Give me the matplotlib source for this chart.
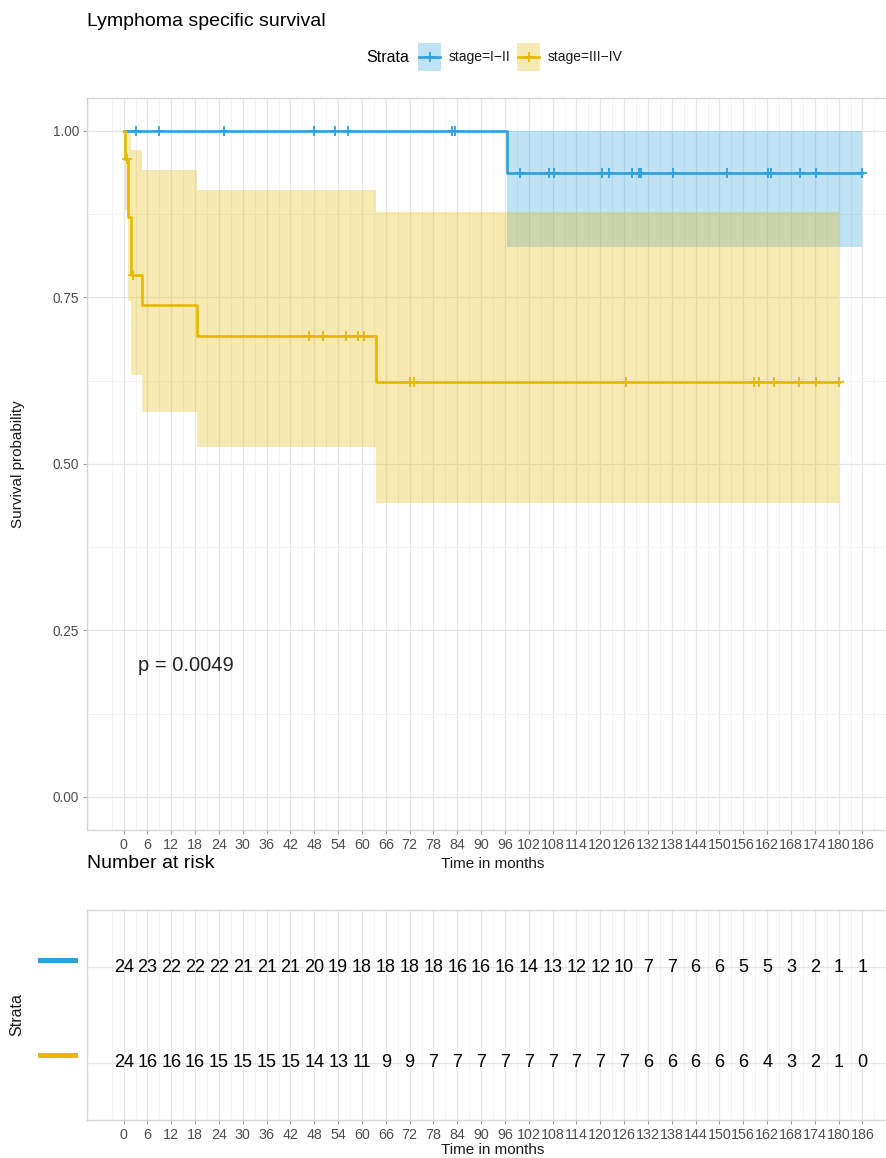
import numpy as np
import matplotlib.pyplot as plt
from matplotlib.lines import Line2D
from matplotlib.patches import Rectangle

plt.rcParams['font.family'] = ['Liberation Sans', 'DejaVu Sans']

# curve steps (months, survival, 95% CI)
blue_time = [0, 96.5, 186.0]
blue_surv = [1.0, 0.9375, 0.9375]
blue_lower = [1.0, 0.826, 0.826]
blue_upper = [1.0, 1.0, 1.0]
blue_cens = [3.0, 8.8, 25.3, 47.8, 53.3, 56.5, 82.6, 83.4, 99.7, 107.0, 108.4,
             120.5, 122.2, 127.9, 129.8, 130.3, 138.3, 152.0, 162.3, 163.0,
             170.3, 174.2, 186.0]

yel_time = [0, 0.3, 1.2, 1.8, 4.7, 18.4, 63.5, 180.0]
yel_surv = [1.0, 0.958, 0.871, 0.784, 0.738, 0.692, 0.623, 0.623]
yel_lower = [1.0, 0.881, 0.745, 0.633, 0.578, 0.525, 0.442, 0.442]
yel_upper = [1.0, 1.0, 1.0, 0.971, 0.942, 0.911, 0.878, 0.878]
yel_cens = [0.9, 2.3, 46.7, 50.1, 56.1, 58.9, 60.4, 72.2, 73.2, 126.5,
            158.7, 160.0, 163.8, 170.1, 174.3, 180.0]

risk_times = list(range(0, 187, 6))
risk_blue = [24, 23, 22, 22, 22, 21, 21, 21, 20, 19, 18, 18, 18, 18, 16, 16,
             16, 14, 13, 12, 12, 10, 7, 7, 6, 6, 5, 5, 3, 2, 1, 1]
risk_yel = [24, 16, 16, 16, 15, 15, 15, 15, 14, 13, 11, 9, 9, 7, 7, 7,
            7, 7, 7, 7, 7, 7, 6, 6, 6, 6, 6, 4, 3, 2, 1, 0]

labels = ['stage=I\u2212II', 'stage=III\u2212IV']
blue = '#2E9FDF'
yellow = '#E7B800'

W, H = 886, 1158


def fx(x):
    return x / W


def fy(y):
    return 1 - y / H


def style_axes(ax):
    ax.set_facecolor('white')
    for s in ax.spines.values():
        s.set_color('#D6D6D6')
        s.set_linewidth(1.0)
    ax.set_xlim(-9.3, 195.3)
    ax.set_xticks(risk_times)
    ax.set_xticks(np.arange(-3, 195, 6), minor=True)
    ax.set_xticklabels([str(t) for t in risk_times], fontsize=10.3, color='#4D4D4D')
    ax.grid(which='major', color='#E6E6E6', linewidth=0.9)
    ax.grid(which='minor', color='#F2F2F2', linewidth=0.7)
    ax.set_axisbelow(True)
    ax.tick_params(which='major', length=3, color='#A0A0A0', pad=2.5)
    ax.tick_params(which='minor', length=0)


fig = plt.figure(figsize=(8.86, 11.58), dpi=100)

# survival panel
ax = fig.add_axes([fx(86.7), fy(830.3), 812.7 / W, 732.6 / H])
style_axes(ax)
ax.set_ylim(-0.05, 1.05)
ax.set_yticks([0, 0.25, 0.5, 0.75, 1.0])
ax.set_yticks([0.125, 0.375, 0.625, 0.875], minor=True)
ax.set_yticklabels(['0.00', '0.25', '0.50', '0.75', '1.00'], fontsize=9.8, color='#4D4D4D')

ax.fill_between(blue_time, blue_lower, blue_upper, step='post', color=blue, alpha=0.3, lw=0)
ax.fill_between(yel_time, yel_lower, yel_upper, step='post', color=yellow, alpha=0.3, lw=0)
ax.step(blue_time, blue_surv, where='post', color=blue, lw=1.9)
ax.step(yel_time, yel_surv, where='post', color=yellow, lw=1.9)

for tms, sv, cens, col in [(blue_time, blue_surv, blue_cens, blue),
                           (yel_time, yel_surv, yel_cens, yellow)]:
    idx = np.searchsorted(tms, cens, side='right') - 1
    ax.plot(cens, np.array(sv)[idx], ls='none', marker='+', ms=7, mew=1.3, color=col)

ax.text(3.7, 0.198, 'p = 0.0049', fontsize=14.5, color='#222222', ha='left', va='center')

ax.set_xlabel('Time in months', fontsize=11, color='#1A1A1A')
ax.xaxis.set_label_coords(0.5, (830.3 - 857) / 732.6)
ax.set_ylabel('Survival probability', fontsize=11, color='#1A1A1A')
ax.yaxis.set_label_coords((25 - 86.7) / 812.7, 0.5)

fig.text(fx(86.7), fy(22), 'Lymphoma specific survival', fontsize=14, va='center', ha='left')

# legend
fig.text(fx(366), fy(57), 'Strata', fontsize=11.5, va='center', ha='left')
for x0, col, lab in [(418, blue, labels[0]), (517, yellow, labels[1])]:
    fig.add_artist(Rectangle((fx(x0), fy(71)), 23 / W, 28 / H, transform=fig.transFigure,
                             facecolor=col, alpha=0.3, edgecolor='none'))
    fig.add_artist(Line2D([fx(x0 + 1), fx(x0 + 22)], [fy(57), fy(57)], transform=fig.transFigure,
                          color=col, lw=1.9))
    fig.add_artist(Line2D([fx(x0 + 11.5)], [fy(57)], transform=fig.transFigure,
                          color=col, marker='+', ms=7, mew=1.3, ls='none'))
    fig.text(fx(x0 + 31), fy(57), lab, fontsize=10, va='center', ha='left', color='#1A1A1A')

# number at risk table
fig.text(fx(86.7), fy(863), 'Number at risk', fontsize=14, va='center', ha='left')
tx = fig.add_axes([fx(86.7), fy(1120), 812.7 / W, 210 / H])
style_axes(tx)
tx.set_ylim(0.4, 2.6)
tx.set_yticks([1, 2])
tx.set_yticklabels(['', ''])
tx.tick_params(axis='y', length=0)
for t, a, b in zip(risk_times, risk_blue, risk_yel):
    tx.text(t, 2, str(a), fontsize=13, ha='center', va='center', color='black')
    tx.text(t, 1, str(b), fontsize=13, ha='center', va='center', color='black')
tx.set_xlabel('Time in months', fontsize=11, color='#1A1A1A')
tx.xaxis.set_label_coords(0.5, (1120 - 1143) / 210)
tx.set_ylabel('Strata', fontsize=11.5, color='#1A1A1A')
tx.yaxis.set_label_coords((24 - 86.7) / 812.7, 0.5)

fig.add_artist(Line2D([fx(40), fx(75)], [fy(960), fy(960)], transform=fig.transFigure,
                      color=blue, lw=3.6))
fig.add_artist(Line2D([fx(40), fx(75)], [fy(1055), fy(1055)], transform=fig.transFigure,
                      color=yellow, lw=3.6))

fig.savefig('out.png', dpi=100)
